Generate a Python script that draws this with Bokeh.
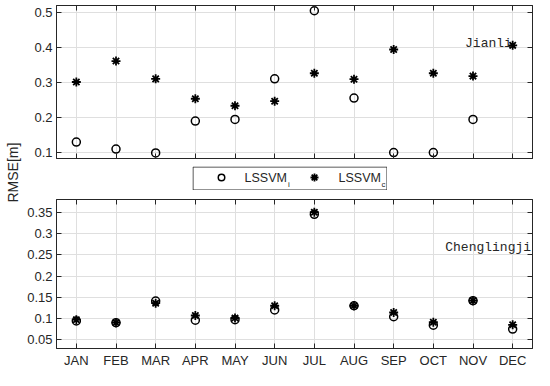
import numpy as np
from bokeh.plotting import figure
from bokeh.models import Range1d, FixedTicker, LinearAxis, Label, Spacer, CustomLabelingPolicy
from bokeh.layouts import row, column
from bokeh.core.properties import value
from bokeh.embed import file_html
from bokeh.resources import INLINE

# ---------------- data ----------------
months = ["JAN", "FEB", "MAR", "APR", "MAY", "JUN", "JUL", "AUG", "SEP", "OCT", "NOV", "DEC"]
month_idx = list(range(1, len(months) + 1))

jianli_lssvm_i = [0.129, 0.109, 0.098, 0.189, 0.194, 0.310, 0.505, 0.255, 0.099, 0.099, 0.194, float("nan")]
jianli_lssvm_c = [0.301, 0.361, 0.310, 0.253, 0.233, 0.246, 0.326, 0.309, 0.394, 0.326, 0.318, 0.406]

cheng_lssvm_i = [0.094, 0.090, 0.141, 0.096, 0.097, 0.120, 0.346, 0.130, 0.104, 0.084, 0.142, 0.075]
cheng_lssvm_c = [0.097, 0.090, 0.136, 0.107, 0.101, 0.130, 0.351, 0.130, 0.114, 0.091, 0.142, 0.085]

top_yticks = [0.1, 0.2, 0.3, 0.4, 0.5]
top_ylabels = ["0.1", "0.2", "0.3", "0.4", "0.5"]
bot_yticks = [0.05, 0.1, 0.15, 0.2, 0.25, 0.3, 0.35]
bot_ylabels = ["0.05", "0.1", "0.15", "0.2", "0.25", "0.3", "0.35"]

# ---------------- styles ----------------
AX = "#262626"
GRID = "#dfdfdf"
SANS = "Liberation Sans"
MONO = "Liberation Mono"

NO_LABELS = "for (const i of indices) { indices.unset(i) }\nreturn indices"


def hide_labels(ax):
    ax.major_label_policy = CustomLabelingPolicy(code=NO_LABELS)
    ax.major_label_text_font_size = "0px"
    ax.major_label_standoff = 0


def style_axis(ax, standoff):
    ax.major_label_text_font = SANS
    ax.major_label_text_font_size = "13px"
    ax.major_label_text_color = AX
    ax.major_label_standoff = standoff
    ax.major_tick_out = 0
    ax.major_tick_in = 5
    ax.minor_tick_in = 0
    ax.minor_tick_out = 0
    ax.major_tick_line_color = AX
    ax.axis_line_color = AX


def hidden_axis(ticker):
    ax = LinearAxis(ticker=ticker)
    style_axis(ax, 0)
    hide_labels(ax)
    return ax


def panel(height, y0, y1, yticks, ylabels, mtop, mbot, show_x):
    p = figure(width=510, height=height, x_range=Range1d(0.5, 12.5), y_range=Range1d(y0, y1),
               output_backend="svg", toolbar_location=None,
               min_border_left=30, min_border_right=2, min_border_top=mtop, min_border_bottom=mbot)
    p.outline_line_color = AX
    p.outline_line_width = 1
    p.background_fill_color = "white"
    p.border_fill_color = "white"

    xt = FixedTicker(ticks=month_idx)
    yt = FixedTicker(ticks=yticks)

    p.xaxis.ticker = xt
    p.yaxis.ticker = yt
    p.xgrid.ticker = xt
    p.ygrid.ticker = yt
    p.xgrid.grid_line_color = GRID
    p.ygrid.grid_line_color = GRID

    style_axis(p.yaxis[0], 4)
    p.yaxis.major_label_overrides = dict(zip(yticks, ylabels))
    if show_x:
        style_axis(p.xaxis[0], 4)
        p.xaxis.major_label_overrides = dict(zip(month_idx, months))
    else:
        style_axis(p.xaxis[0], 0)
        hide_labels(p.xaxis[0])

    p.add_layout(hidden_axis(FixedTicker(ticks=month_idx)), "above")
    p.add_layout(hidden_axis(FixedTicker(ticks=yticks)), "right")
    return p


top = panel(166, 0.082, 0.52, top_yticks, top_ylabels, 5, 8, False)
top.scatter(x=month_idx, y=jianli_lssvm_i, marker="circle", size=8, fill_color=None,
            line_color="black", line_width=1.5)
top.scatter(x=month_idx, y=jianli_lssvm_c, marker="asterisk", size=9,
            line_color="black", line_width=1.8)
top.add_layout(Label(x=10.8, y=0.412, text="Jianli", text_font=MONO, text_font_size="13px",
                     text_color="#262626", text_baseline="middle", text_align="left"))

bot = panel(180, 0.029, 0.381, bot_yticks, bot_ylabels, 9, 19, True)
bot.scatter(x=month_idx, y=cheng_lssvm_i, marker="circle", size=8, fill_color=None,
            line_color="black", line_width=1.5)
bot.scatter(x=month_idx, y=cheng_lssvm_c, marker="asterisk", size=9,
            line_color="black", line_width=1.8)
bot.add_layout(Label(x=10.3, y=0.267, text="Chenglingji", text_font=MONO, text_font_size="13px",
                     text_color="#262626", text_baseline="middle", text_align="left"))

# ---------------- legend strip ----------------
leg = figure(width=195, height=24, x_range=Range1d(0, 195), y_range=Range1d(0, 24),
             output_backend="svg", toolbar_location=None, min_border=0,
             x_axis_type=None, y_axis_type=None)
leg.outline_line_color = None
leg.xgrid.visible = False
leg.ygrid.visible = False
leg.quad(left=[0.5], right=[194.5], bottom=[0.5], top=[23.5], fill_color="white",
         line_color=AX, line_width=1)
leg.scatter(x=[29], y=[13], marker="circle", size=6.5, fill_color=None, line_color="black", line_width=1.5)
leg.scatter(x=[122], y=[13], marker="asterisk", size=8, line_color="black", line_width=1.8)
leg.text(x=[52, 146], y=[13, 13], text=["LSSVM", "LSSVM"], text_font=value(SANS),
         text_font_size="12.5px", text_color="#262626", text_baseline="middle", text_align="left")
leg.text(x=[95.5, 189], y=[6, 6], text=["i", "c"], text_font=value(SANS),
         text_font_size="8px", text_color="#262626", text_baseline="middle", text_align="left")

# ---------------- y label strip ----------------
lab = figure(width=24, height=370, x_range=Range1d(0, 1), y_range=Range1d(0, 1),
             output_backend="svg", toolbar_location=None, min_border=0,
             x_axis_type=None, y_axis_type=None)
lab.outline_line_color = None
lab.xgrid.visible = False
lab.ygrid.visible = False
lab.add_layout(Label(x=0.5, y=0.535, text="RMSE[m]", angle=np.pi / 2, text_font=SANS,
                     text_font_size="14px", text_color="#262626",
                     text_align="center", text_baseline="middle"))

layout = row(lab, column(top, row(Spacer(width=168, height=24), leg), bot))

open("out.html", "w").write(file_html(layout, INLINE))
